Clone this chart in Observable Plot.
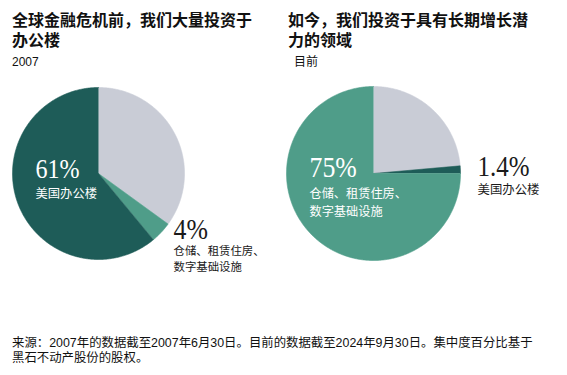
<!DOCTYPE html>
<html>
<head>
<meta charset="utf-8">
<script src="https://cdn.jsdelivr.net/npm/d3@7"></script>
<script src="https://cdn.jsdelivr.net/npm/@observablehq/plot@0.6"></script>
<style>
  html, body { margin: 0; padding: 0; background: #fff; }
  body { width: 567px; height: 375px; position: relative; overflow: hidden;
         font-family: "Liberation Sans", "Noto Sans CJK SC", sans-serif; color: #111; }
  .title { position: absolute; font-family: "Noto Sans CJK SC", sans-serif;
           font-weight: 700; font-size: 16px; line-height: 20px; height: 20px; white-space: nowrap; color: #111; }
  .sub { position: absolute; top: 55px; font-size: 12px; line-height: 14px; color: #111; }
  #chart { position: absolute; left: 0; top: 80px; }
  .foot { position: absolute; left: 12px; font-size: 12.4px; line-height: 15px; height: 15px; white-space: nowrap; color: #111; }
</style>
</head>
<body>
<div class="title" style="left:12px; top:9px">全球金融危机前，我们大量投资于</div>
<div class="title" style="left:12px; top:29px">办公楼</div>
<div class="sub" style="left:12px">2007</div>
<div class="title" style="left:288px; top:9px">如今，我们投资于具有长期增长潜</div>
<div class="title" style="left:288px; top:29px">力的领域</div>
<div class="sub" style="left:294px">目前</div>
<div id="chart"></div>
<div class="foot" style="top:336px">来源：2007年的数据截至2007年6月30日。目前的数据截至2024年9月30日。集中度百分比基于</div>
<div class="foot" style="top:351px">黑石不动产股份的股权。</div>
<script>
// ---- data ----
const categories = ["美国办公楼", "仓储、租赁住房、数字基础设施", "其他"];
const categoryLabels = ["美国办公楼", "仓储、租赁住房、\n数字基础设施", ""];
const pies = ["2007", "目前"];
const share2007 = [61, 4, 35];
const shareNow = [1.4, 75, 23.6];
const colors = ["#1e5c58", "#4f9d89", "#c9ccd6"];

// ---- layout (page pixels) ----
const layout = [
  {values: share2007, order: [2, 1, 0], cx: 98, cy: 173, r: 86},
  {values: shareNow, order: [2, 0, 1], cx: 373, cy: 173, r: 87}
];

// build slice polygons with d3.pie (clockwise from 12 o'clock)
const sliceData = [];
layout.forEach((p, pi) => {
  const arcs = d3.pie().sort(null).value(i => p.values[i])(p.order);
  arcs.forEach(a => {
    const key = pies[pi] + "-" + a.data;
    const cat = categories[a.data];
    sliceData.push({key, category: cat, x: p.cx, y: p.cy});
    const n = Math.max(2, Math.ceil((a.endAngle - a.startAngle) / 0.01));
    for (let k = 0; k <= n; k++) {
      const t = a.startAngle + (a.endAngle - a.startAngle) * k / n;
      sliceData.push({key, category: cat, x: p.cx + p.r * Math.sin(t), y: p.cy - p.r * Math.cos(t)});
    }
  });
});

// label placements: pie index, category index, position, styling
const labelLayout = [
  {pie: 0, cat: 0, x: 35, y: 177, sy: 186, size: 28, nsize: 12.3, inside: true},
  {pie: 0, cat: 1, x: 173, y: 238, sy: 244, size: 30, nsize: 11.4, inside: false},
  {pie: 1, cat: 1, x: 309, y: 176, sy: 185, size: 30, nsize: 12.2, inside: true},
  {pie: 1, cat: 0, x: 477, y: 175, sy: 182, size: 29, nsize: 12.4, inside: false}
];
const vals = [share2007, shareNow];
const labels = labelLayout.map(l => ({
  ...l,
  pct: vals[l.pie][l.cat] + "%",
  name: categoryLabels[l.cat]
}));

const numberMark = (data, fill) => Plot.text(data, {
  x: "x", y: "y", text: "pct", fontSize: "size", fill,
  textAnchor: "start", lineAnchor: "bottom",
  fontFamily: "Liberation Serif, serif"
});
const nameMark = (data, fill, lh) => Plot.text(data, {
  x: "x", y: "sy", text: "name", fontSize: "nsize", fill,
  textAnchor: "start", lineAnchor: "top", lineHeight: lh,
  fontFamily: "Noto Sans CJK SC, sans-serif"
});

const chart = Plot.plot({
  width: 567, height: 250,
  margin: 0,
  x: {domain: [0, 567], range: [0, 567], axis: null},
  y: {domain: [80, 330], range: [0, 250], axis: null},
  color: {domain: categories, range: colors},
  style: {background: "transparent", overflow: "visible"},
  marks: [
    Plot.line(sliceData, {x: "x", y: "y", z: "key", fill: "category", stroke: "category", strokeWidth: 0.6, curve: "linear"}),
    numberMark(labels.filter(d => d.inside), "white"),
    numberMark(labels.filter(d => !d.inside), "#1a1a1a"),
    nameMark(labels.filter(d => d.inside && d.pie === 0), "white", 1.3),
    nameMark(labels.filter(d => d.inside && d.pie === 1), "white", 1.45),
    nameMark(labels.filter(d => !d.inside && d.pie === 0), "#1a1a1a", 1.35),
    nameMark(labels.filter(d => !d.inside && d.pie === 1), "#1a1a1a", 1.3)
  ]
});
document.getElementById("chart").append(chart);

// condense the serif numerals slightly, like the display face in the reference
d3.select(chart).selectAll("g[font-family^='Liberation Serif'] text").each(function() {
  this.style.fontFamily = "'Liberation Serif', serif";
  const w = this.getComputedTextLength();
  this.setAttribute("textLength", (w * 0.86).toFixed(1));
  this.setAttribute("lengthAdjust", "spacingAndGlyphs");
});
</script>
</body>
</html>
